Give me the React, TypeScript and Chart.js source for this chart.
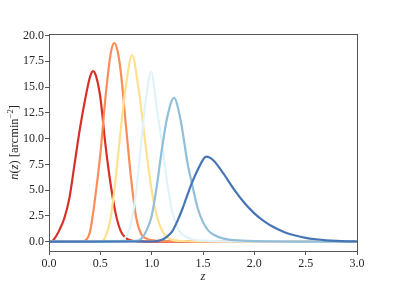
import React, { useEffect, useRef } from "react";
import { Chart, registerables } from "chart.js";

Chart.register(...registerables);

// Redshift sample points and n(z) values for each tomographic bin
const redZ = [0, 0.02, 0.05, 0.1, 0.15, 0.2, 0.25, 0.3, 0.35, 0.4, 0.43, 0.46, 0.5, 0.55, 0.6, 0.65, 0.7, 0.75, 0.8, 0.9, 1.0, 3.0];
const redN = [0, 0, 0.25, 1.1, 2.3, 4.3, 7.6, 10.9, 13.7, 16.0, 16.55, 16.0, 14.0, 9.4, 5.6, 2.7, 1.0, 0.35, 0.12, 0.03, 0.01, 0];

const orangeZ = [0, 0.3, 0.35, 0.4, 0.45, 0.5, 0.55, 0.6, 0.635, 0.67, 0.7, 0.75, 0.8, 0.85, 0.9, 0.95, 1.0, 1.1, 1.2, 3.0];
const orangeN = [0, 0, 0.1, 1.0, 4.3, 8.5, 14.0, 18.2, 19.26, 18.4, 16.4, 11.2, 6.1, 2.3, 0.7, 0.3, 0.15, 0.06, 0.03, 0];

const yellowZ = [0, 0.5, 0.55, 0.6, 0.65, 0.7, 0.75, 0.81, 0.87, 0.9, 0.95, 1.0, 1.05, 1.1, 1.15, 1.2, 1.3, 1.4, 3.0];
const yellowN = [0, 0, 0.5, 2.3, 6.2, 11.0, 15.2, 18.1, 15.0, 12.8, 8.6, 5.0, 2.5, 1.1, 0.42, 0.18, 0.07, 0.03, 0];

const cyanZ = [0, 0.7, 0.75, 0.8, 0.85, 0.9, 0.95, 0.995, 1.05, 1.1, 1.15, 1.2, 1.25, 1.3, 1.4, 1.5, 1.7, 3.0];
const cyanN = [0, 0.05, 0.5, 1.8, 5.0, 9.8, 14.3, 16.45, 12.9, 9.6, 5.8, 2.9, 1.4, 0.7, 0.22, 0.1, 0.04, 0];

const lightBlueZ = [0, 0.85, 0.9, 0.95, 1.0, 1.05, 1.1, 1.15, 1.218, 1.28, 1.35, 1.4, 1.45, 1.5, 1.55, 1.6, 1.7, 1.8, 2.0, 3.0];
const lightBlueN = [0, 0.08, 0.3, 1.1, 2.5, 5.4, 9.0, 12.0, 13.95, 11.9, 7.6, 5.3, 3.2, 1.9, 1.1, 0.7, 0.3, 0.15, 0.06, 0];

const blueZ = [0, 1.0, 1.1, 1.15, 1.2, 1.25, 1.3, 1.35, 1.4, 1.45, 1.5, 1.53, 1.6, 1.7, 1.8, 1.9, 2.0, 2.1, 2.2, 2.3, 2.4, 2.5, 2.6, 2.7, 2.8, 2.9, 3.0];
const blueN = [0, 0.02, 0.2, 0.5, 1.0, 2.0, 3.2, 4.6, 5.9, 7.0, 7.95, 8.25, 7.9, 6.6, 5.1, 3.8, 2.75, 1.95, 1.35, 0.9, 0.6, 0.38, 0.24, 0.14, 0.08, 0.04, 0.02];

const seriesColors = ["#d73027", "#fc8d59", "#fee090", "#e0f3f8", "#91bfdb", "#4575b4"];

const xTicks = [0, 0.5, 1.0, 1.5, 2.0, 2.5, 3.0];
const yTicks = [0, 2.5, 5.0, 7.5, 10.0, 12.5, 15.0, 17.5, 20.0];

// y-axis title pieces: [text, italic, superscript]
const yTitleParts: [string, boolean, boolean][] = [
  ["n", true, false],
  ["(", false, false],
  ["z", true, false],
  [") [arcmin", false, false],
  ["−2", false, true],
  ["]", false, false],
];

const FONT = "'Liberation Serif', 'Times New Roman', serif";
const TEXT_COLOR = "#262626";

const framePlugin = {
  id: "frame",
  afterDatasetsDraw(chart: any) {
    const { ctx, chartArea } = chart;
    ctx.save();
    ctx.strokeStyle = "#555";
    ctx.lineWidth = 1;
    ctx.strokeRect(
      Math.round(chartArea.left) + 0.5,
      Math.round(chartArea.top) + 0.5,
      Math.round(chartArea.right - chartArea.left),
      Math.round(chartArea.bottom - chartArea.top)
    );
    ctx.restore();
  },
};

const yTitlePlugin = {
  id: "yTitle",
  afterDraw(chart: any) {
    const { ctx, chartArea } = chart;
    const base = 12.5;
    const sup = 8.5;
    const fontOf = (it: boolean, s: boolean) =>
      `${it ? "italic " : ""}${s ? sup : base}px ${FONT}`;
    ctx.save();
    let total = 0;
    const widths = yTitleParts.map(([t, it, s]) => {
      ctx.font = fontOf(it, s);
      const w = ctx.measureText(t).width;
      total += w;
      return w;
    });
    const cy = (chartArea.top + chartArea.bottom) / 2;
    ctx.translate(18, cy);
    ctx.rotate(-Math.PI / 2);
    ctx.fillStyle = TEXT_COLOR;
    ctx.textBaseline = "alphabetic";
    ctx.textAlign = "left";
    let x = -total / 2;
    yTitleParts.forEach(([t, it, s], i) => {
      ctx.font = fontOf(it, s);
      ctx.fillText(t, x, s ? -5 : 0);
      x += widths[i];
    });
    ctx.restore();
  },
};

export default function App() {
  const ref = useRef<HTMLCanvasElement | null>(null);

  useEffect(() => {
    if (!ref.current) return;
    const zs = [redZ, orangeZ, yellowZ, cyanZ, lightBlueZ, blueZ];
    const ns = [redN, orangeN, yellowN, cyanN, lightBlueN, blueN];
    const datasets = zs.map((z, i) => ({
      data: z.map((v, j) => ({ x: v, y: ns[i][j] })),
      borderColor: seriesColors[i],
      borderWidth: 2.2,
      pointRadius: 0,
      fill: false,
      cubicInterpolationMode: "monotone" as const,
      order: 5 - i,
    }));

    const chart = new Chart(ref.current, {
      type: "line",
      data: { datasets },
      plugins: [framePlugin, yTitlePlugin],
      options: {
        animation: false,
        responsive: true,
        maintainAspectRatio: false,
        layout: { padding: { top: 34, right: 40, left: 0, bottom: 0 } },
        plugins: { legend: { display: false }, tooltip: { enabled: false } },
        scales: {
          x: {
            type: "linear",
            min: 0,
            max: 3,
            afterBuildTicks: (s: any) => {
              s.ticks = xTicks.map((v) => ({ value: v }));
            },
            afterFit: (s: any) => {
              s.height = 32;
            },
            grid: { display: true, drawOnChartArea: false, drawTicks: true, tickLength: 4, color: "#555" },
            border: { display: false },
            ticks: {
              padding: 2,
              color: TEXT_COLOR,
              font: { family: FONT, size: 12 },
              maxRotation: 0,
              callback: (v: any) => Number(v).toFixed(1),
            },
            title: {
              display: true,
              text: "z",
              color: TEXT_COLOR,
              font: { family: FONT, size: 12.5, style: "italic", lineHeight: 1 },
              padding: 0,
            },
          },
          y: {
            type: "linear",
            min: -0.9,
            max: 20.15,
            afterBuildTicks: (s: any) => {
              s.ticks = yTicks.map((v) => ({ value: v }));
            },
            afterFit: (s: any) => {
              s.width = 49;
            },
            grid: { display: true, drawOnChartArea: false, drawTicks: true, tickLength: 4, color: "#555" },
            border: { display: false },
            ticks: {
              padding: 1,
              color: TEXT_COLOR,
              font: { family: FONT, size: 12 },
              callback: (v: any) => Number(v).toFixed(1),
            },
          },
        },
      },
    });
    return () => chart.destroy();
  }, []);

  return (
    <div style={{ position: "absolute", left: 0, top: 0, width: 397, height: 283 }}>
      <canvas ref={ref} />
    </div>
  );
}
